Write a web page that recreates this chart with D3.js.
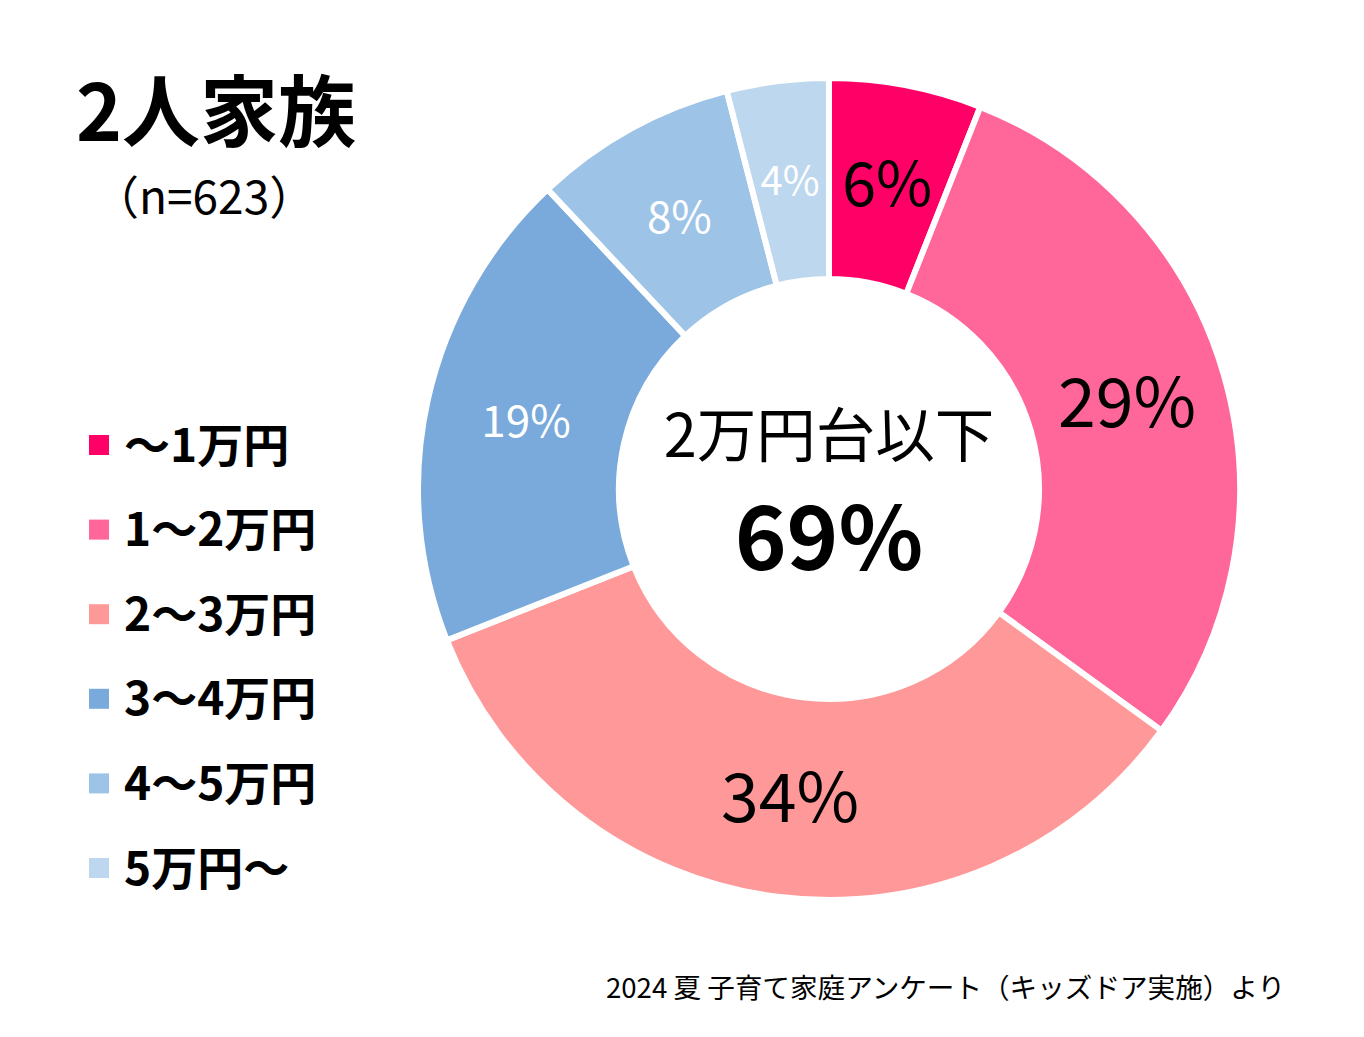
<!DOCTYPE html>
<html>
<head>
<meta charset="utf-8">
<script src="https://cdn.jsdelivr.net/npm/d3@7"></script>
<style>
  body { margin: 0; background: #fff; }
  text { font-family: "Noto Sans CJK JP", "Noto Sans", sans-serif; }
</style>
</head>
<body>
<svg id="chart" width="1364" height="1037"></svg>
<script>

// data
const categories = ['〜1万円', '1〜2万円', '2〜3万円', '3〜4万円', '4〜5万円', '5万円〜'];
const shares = [6, 29, 34, 19, 8, 4];
const colors = ['#ff0066', '#ff6699', '#ff9999', '#79aadb', '#9dc3e6', '#bdd7ee'];
const label_colors = ['#000', '#000', '#000', '#fff', '#fff', '#fff'];
const label_sizes = [61, 68, 68, 44, 44, 40];

const svg = d3.select('#chart');
const cx = 829, cy = 489;
const outer_r = 411, inner_r = 210;

const pie = d3.pie().sort(null).value(d => d);
const arc = d3.arc().innerRadius(inner_r).outerRadius(outer_r);

const donut = svg.append('g')
    .attr('transform', `translate(${cx},${cy})`);

const slices = donut.selectAll('.slice')
        .data(pie(shares))
        .enter()
    .append('g')
        .attr('class', 'slice');

slices.append('path')
    .attr('d', arc)
    .attr('fill', (d, i) => colors[i])
    .attr('stroke', '#fff')
    .attr('stroke-width', 6);

slices.append('text')
    .attr('transform', d => `translate(${arc.centroid(d)})`)
    .attr('text-anchor', 'middle')
    .attr('dy', '0.36em')
    .attr('fill', (d, i) => label_colors[i])
    .attr('font-size', (d, i) => label_sizes[i])
    .text(d => d.data + '%');

// center note
donut.append('text')
    .attr('text-anchor', 'middle')
    .attr('y', -32)
    .attr('font-size', 59.5)
    .text('2万円台以下');

donut.append('text')
    .attr('text-anchor', 'middle')
    .attr('y', 81)
    .attr('font-size', 88)
    .attr('font-weight', 'bold')
    .text(d3.sum(shares.slice(0, 3)) + '%');

// title
svg.append('text')
    .attr('x', 76).attr('y', 141)
    .attr('font-size', 78)
    .attr('font-weight', 'bold')
    .text('2人家族');

svg.append('text')
    .attr('x', 93).attr('y', 214)
    .attr('font-size', 46)
    .text('（n=623）');

// legend
const legend = svg.selectAll('.legend-item')
        .data(categories)
        .enter()
    .append('g')
        .attr('class', 'legend-item')
        .attr('transform', (d, i) => `translate(89,${445 + i * 84.6})`);

legend.append('rect')
    .attr('x', 0).attr('y', -10)
    .attr('width', 20).attr('height', 20)
    .attr('fill', (d, i) => colors[i]);

legend.append('text')
    .attr('x', 35)
    .attr('dy', '0.36em')
    .attr('font-size', 46)
    .attr('font-weight', 'bold')
    .text(d => d);

// source
svg.append('text')
    .attr('x', 1285).attr('y', 998)
    .attr('text-anchor', 'end')
    .attr('font-size', 27.6)
    .text('2024 夏 子育て家庭アンケート（キッズドア実施）より');

</script>
</body>
</html>
